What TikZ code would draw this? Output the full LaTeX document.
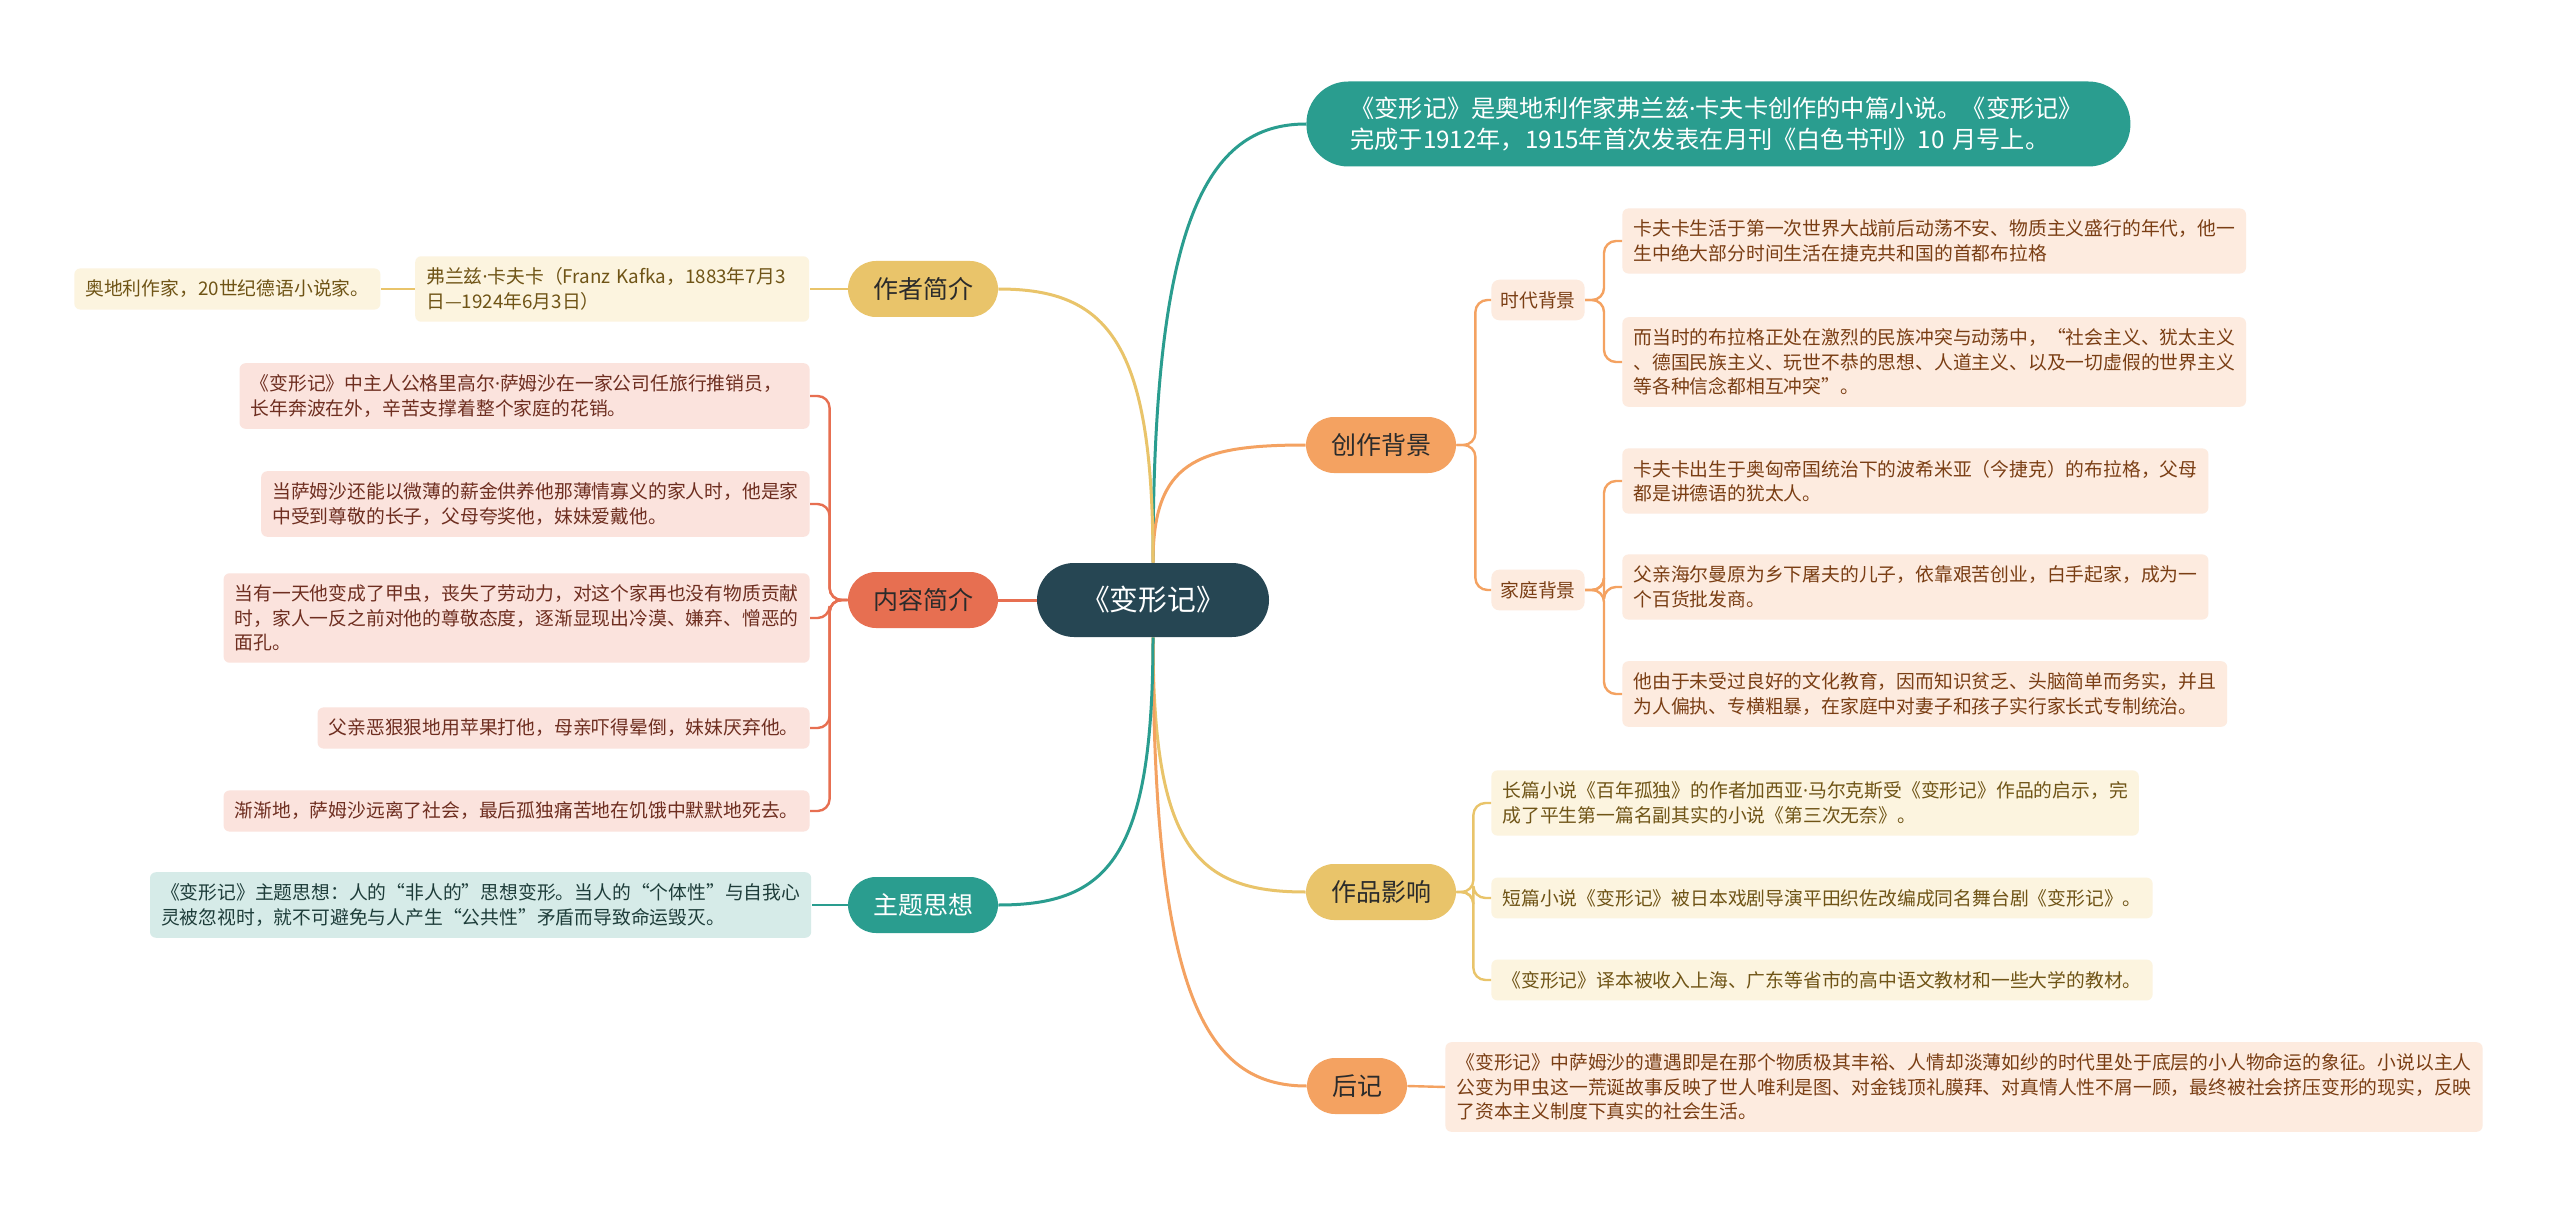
\documentclass[tikz,border=0pt]{standalone}
\usepackage{fontspec}
\setmainfont{Noto Sans CJK SC}
\newfontfamily\latinfont{Noto Sans}
\newcommand{\mdot}{{\latinfont ·}}
\usetikzlibrary{positioning}
\definecolor{rootc}{HTML}{264653}
\definecolor{tealc}{HTML}{2A9D8F}
\definecolor{goldc}{HTML}{E9C46A}
\definecolor{orangec}{HTML}{F4A261}
\definecolor{coralc}{HTML}{E76F51}
\definecolor{darktxt}{HTML}{2B2B2B}
\definecolor{goldleaf}{HTML}{FCF4DF}
\definecolor{goldtxt}{HTML}{6F5416}
\definecolor{coralleaf}{HTML}{FBE3DD}
\definecolor{coraltxt}{HTML}{6E2E20}
\definecolor{tealleaf}{HTML}{D6EBE8}
\definecolor{tealtxt}{HTML}{1E3D3A}
\definecolor{orangeleaf}{HTML}{FDEBDF}
\definecolor{orangetxt}{HTML}{7A3E14}
\tikzset{
    rootnode/.style={rounded corners=18.5pt, fill=rootc, text=white, minimum height=37pt, minimum width=116pt, font=\fontsize{14.4}{17}\selectfont},
    pill/.style={rounded corners=14pt, minimum height=28pt, inner xsep=12.5pt, font=\fontsize{12.5}{15}\selectfont},
    gpill/.style={pill, fill=goldc, text=darktxt},
    opill/.style={pill, fill=orangec, text=darktxt},
    cpill/.style={pill, fill=coralc, text=darktxt},
    tpill/.style={pill, fill=tealc, text=white},
    leaf/.style={rounded corners=3pt, inner xsep=5.5pt, inner ysep=5.8pt, align=left, font=\fontsize{9.4}{12.2}\selectfont},
    yleaf/.style={leaf, fill=goldleaf, text=goldtxt},
    rleaf/.style={leaf, fill=coralleaf, text=coraltxt},
    tleaf/.style={leaf, fill=tealleaf, text=tealtxt},
    oleaf/.style={leaf, fill=orangeleaf, text=orangetxt},
    gline/.style={draw=goldc, line width=1.5pt},
    oline/.style={draw=orangec, line width=1.5pt},
    cline/.style={draw=coralc, line width=1.5pt},
    tline/.style={draw=tealc, line width=1.5pt},
}

\begin{document}
\begin{tikzpicture}[x=0.5pt, y=-0.5pt]
    \path[use as bounding box, fill=white] (0,0) rectangle (2560,1214);

    % Centre
    \node[rootnode] (root) at (1153,600) {《变形记》};

    % Left side
    \node[gpill] (author) at (923,289) {作者简介};
    \node[yleaf, text width=186pt, left=19pt of author] (kafka) {弗兰兹\mdot 卡夫卡（Franz Kafka，1883年7月3\\日—1924年6月3日）};
    \node[yleaf, left=17pt of kafka] (austria) {奥地利作家，20世纪德语小说家。};

    \node[cpill] (content) at (923,600) {内容简介};
    \node[rleaf, text width=274pt, anchor=east] (plot1) at (810,396) {《变形记》中主人公格里高尔\mdot 萨姆沙在一家公司任旅行推销员，\\长年奔波在外，辛苦支撑着整个家庭的花销。};
    \node[rleaf, anchor=east] (plot2) at (810,504) {当萨姆沙还能以微薄的薪金供养他那薄情寡义的家人时，他是家\\中受到尊敬的长子，父母夸奖他，妹妹爱戴他。};
    \node[rleaf, anchor=east] (plot3) at (810,618) {当有一天他变成了甲虫，丧失了劳动力，对这个家再也没有物质贡献\\时，家人一反之前对他的尊敬态度，逐渐显现出冷漠、嫌弃、憎恶的\\面孔。};
    \node[rleaf, anchor=east] (plot4) at (810,728) {父亲恶狠狠地用苹果打他，母亲吓得晕倒，妹妹厌弃他。};
    \node[rleaf, anchor=east] (plot5) at (810,811) {渐渐地，萨姆沙远离了社会，最后孤独痛苦地在饥饿中默默地死去。};

    \node[tpill] (theme) at (923,905) {主题思想};
    \node[tleaf, left=18pt of theme] (themetxt) {《变形记》主题思想：人的“非人的”思想变形。当人的“个体性”与自我心\\灵被忽视时，就不可避免与人产生“公共性”矛盾而导致命运毁灭。};

    % Right side
    \node[tpill, rounded corners=21pt, minimum height=42.5pt, inner xsep=22pt, text width=368pt, align=left, font=\fontsize{12.1}{15.5}\selectfont, anchor=west] (intro) at (1306,124) {《变形记》是奥地利作家弗兰兹\mdot 卡夫卡创作的中篇小说。《变形记》\\完成于1912年，1915年首次发表在月刊《白色书刊》10 月号上。};

    \node[opill] (bg) at (1381,445) {创作背景};
    \node[oleaf, rounded corners=4pt, inner xsep=4.5pt, anchor=west] (era) at (1491,300) {时代背景};
    \node[oleaf, rounded corners=4pt, inner xsep=4.5pt, anchor=west] (family) at (1491,590) {家庭背景};
    \node[oleaf, anchor=west] (era1) at (1622,241) {卡夫卡生活于第一次世界大战前后动荡不安、物质主义盛行的年代，他一\\生中绝大部分时间生活在捷克共和国的首都布拉格};
    \node[oleaf, anchor=west] (era2) at (1622,362) {而当时的布拉格正处在激烈的民族冲突与动荡中，“社会主义、犹太主义\\、德国民族主义、玩世不恭的思想、人道主义、以及一切虚假的世界主义\\等各种信念都相互冲突”。};
    \node[oleaf, anchor=west] (fam1) at (1622,481) {卡夫卡出生于奥匈帝国统治下的波希米亚（今捷克）的布拉格，父母\\都是讲德语的犹太人。};
    \node[oleaf, anchor=west] (fam2) at (1622,587) {父亲海尔曼原为乡下屠夫的儿子，依靠艰苦创业，白手起家，成为一\\个百货批发商。};
    \node[oleaf, anchor=west] (fam3) at (1622,694) {他由于未受过良好的文化教育，因而知识贫乏、头脑简单而务实，并且\\为人偏执、专横粗暴，在家庭中对妻子和孩子实行家长式专制统治。};

    \node[gpill] (impact) at (1381,892) {作品影响};
    \node[yleaf, anchor=west] (imp1) at (1491,803) {长篇小说《百年孤独》的作者加西亚\mdot 马尔克斯受《变形记》作品的启示，完\\成了平生第一篇名副其实的小说《第三次无奈》。};
    \node[yleaf, anchor=west] (imp2) at (1491,898) {短篇小说《变形记》被日本戏剧导演平田织佐改编成同名舞台剧《变形记》。};
    \node[yleaf, anchor=west] (imp3) at (1491,980) {《变形记》译本被收入上海、广东等省市的高中语文教材和一些大学的教材。};

    \node[opill] (after) at (1357,1086) {后记};
    \node[oleaf, anchor=west] (aftertxt) at (1445,1087) {《变形记》中萨姆沙的遭遇即是在那个物质极其丰裕、人情却淡薄如纱的时代里处于底层的小人物命运的象征。小说以主人\\公变为甲虫这一荒诞故事反映了世人唯利是图、对金钱顶礼膜拜、对真情人性不屑一顾，最终被社会挤压变形的现实，反映\\了资本主义制度下真实的社会生活。};

    % Main branches
    \draw[tline] (root.north) .. controls +(0,-340) and +(-100,0) .. (intro.west);
    \draw[oline] (root.north) .. controls +(0,-100) and +(-110,0) .. (bg.west);
    \draw[gline] (root.north) .. controls +(0,-220) and +(110,0) .. (author.east);
    \draw[cline] (root.west) -- (content.east);
    \draw[gline] (root.south) .. controls +(0,210) and +(-110,0) .. (impact.west);
    \draw[oline] (root.south) .. controls +(0,360) and +(-100,0) .. (after.west);
    \draw[tline] (root.south) .. controls +(0,220) and +(110,0) .. (theme.east);

    % Sub branches
    \draw[gline, line width=1.2pt] (author.west) -- (kafka.east);
    \draw[gline, line width=1.2pt] (kafka.west) -- (austria.east);
    \draw[tline, line width=1.2pt] (theme.west) -- (themetxt.east);
    \draw[oline, line width=1.2pt] (after.east) -- (aftertxt.west);
    \foreach \n in {plot1,plot2,plot3,plot4,plot5}
        \draw[cline, line width=1.2pt, rounded corners=6pt] (content.west) -- ++(-18,0) |- (\n.east);
    \foreach \n in {era,family}
        \draw[oline, line width=1.2pt, rounded corners=6pt] (bg.east) -- ++(19,0) |- (\n.west);
    \foreach \n in {era1,era2}
        \draw[oline, line width=1.2pt, rounded corners=6pt] (era.east) -- ++(19,0) |- (\n.west);
    \foreach \n in {fam1,fam2,fam3}
        \draw[oline, line width=1.2pt, rounded corners=6pt] (family.east) -- ++(19,0) |- (\n.west);
    \foreach \n in {imp1,imp2,imp3}
        \draw[gline, line width=1.2pt, rounded corners=6pt] (impact.east) -- ++(17,0) |- (\n.west);
\end{tikzpicture}
\end{document}
